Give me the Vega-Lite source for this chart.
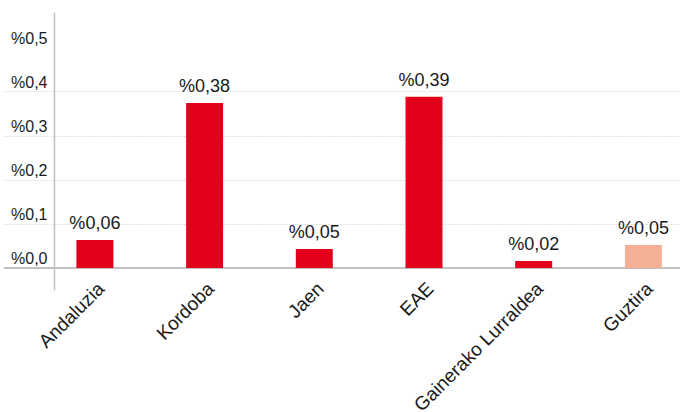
{
  "$schema": "https://vega.github.io/schema/vega-lite/v6.json",
  "width": 676,
  "height": 278,
  "autosize": {"type": "none"},
  "padding": {"left": 4, "top": 12, "right": 0, "bottom": 122},
  "config": {"view": {"stroke": null}, "font": "Liberation Sans"},
  "data": {
    "values": [
      {"region": "Andaluzia", "value": 0.0635, "label": "%0,06", "kind": "eskualdea"},
      {"region": "Kordoba", "value": 0.374, "label": "%0,38", "kind": "eskualdea"},
      {"region": "Jaen", "value": 0.043, "label": "%0,05", "kind": "eskualdea"},
      {"region": "EAE", "value": 0.388, "label": "%0,39", "kind": "eskualdea"},
      {"region": "Gainerako Lurraldea", "value": 0.016, "label": "%0,02", "kind": "eskualdea"},
      {"region": "Guztira", "value": 0.052, "label": "%0,05", "kind": "guztira"}
    ]
  },
  "layer": [
    {
      "mark": {"type": "rule", "color": "#c0c0c0", "strokeWidth": 2},
      "encoding": {"y": {"datum": 0, "type": "quantitative", "axis": {"title": null}}}
    },
    {
      "mark": {"type": "bar"},
      "encoding": {
        "x": {
          "field": "region", "type": "nominal", "sort": null,
          "scale": {"paddingInner": 0.663, "paddingOuter": 0.4125, "align": 0.8},
          "axis": {"title": null, "domain": false, "ticks": false, "labelAngle": -45, "labelAlign": "right", "labelBaseline": "top", "labelPadding": -11, "labelFontSize": 19, "labelColor": "#1a1a1a", "grid": false, "labelBound": false, "labelOverlap": false, "labelLimit": 0}
        },
        "y": {
          "field": "value", "type": "quantitative",
          "scale": {"domain": [-0.05, 0.58], "nice": false, "zero": false},
          "axis": {
            "title": null,
            "values": [0, 0.1, 0.2, 0.3, 0.4, 0.5],
            "offset": -50,
            "ticks": false,
            "domainColor": "#c0c0c0",
            "domainWidth": 1.5,
            "labelExpr": "'%' + replace(format(datum.value, '.1f'), '.', ',')",
            "labelFontSize": 16,
            "labelColor": "#1a1a1a",
            "labelPadding": 7,
            "labelBaseline": "alphabetic",
            "labelOffset": -4,
            "labelOverlap": false,
            "labelBound": false,
            "labelFlush": false,
            "grid": true,
            "gridColor": "#c8c8c8",
            "gridDash": [1, 2],
            "gridOpacity": {"condition": {"test": "datum.value > 0 && datum.value < 0.45", "value": 1}, "value": 0}
          }
        },
        "y2": {"datum": 0},
        "color": {"field": "kind", "type": "nominal", "scale": {"domain": ["eskualdea", "guztira"], "range": ["#E2001A", "#F4AF94"]}, "legend": null}
      }
    },
    {
      "mark": {"type": "text", "baseline": "alphabetic", "dy": -11, "fontSize": 18, "color": "#1a1a1a"},
      "encoding": {
        "x": {"field": "region", "type": "nominal", "sort": null},
        "y": {"field": "value", "type": "quantitative"},
        "text": {"field": "label"}
      }
    }
  ]
}
